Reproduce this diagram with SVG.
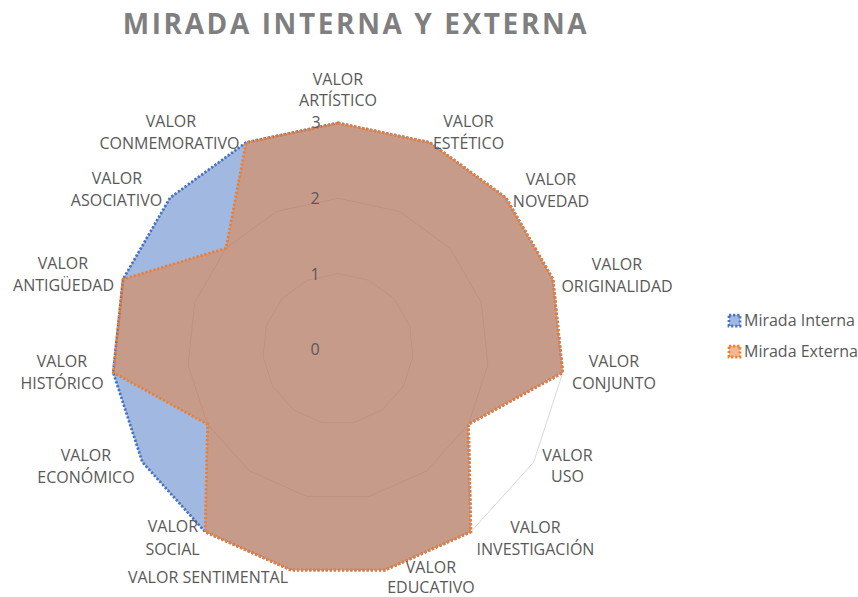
<svg xmlns="http://www.w3.org/2000/svg" width="858" height="597" viewBox="0 0 858 597">
<style>
.t{font-family:"Open Sans","Liberation Sans",sans-serif;font-size:16px;fill:#595959;text-anchor:middle}
.title{font-family:"Open Sans","Liberation Sans",sans-serif;font-size:28px;font-weight:bold;fill:#7f7f7f;text-anchor:middle;letter-spacing:2.6px}
.grid{fill:none;stroke:#d9d9d9;stroke-width:1}
.int{fill:#4472c4;fill-opacity:0.5;stroke:#4472c4;stroke-width:2.75;stroke-dasharray:2.2 1.9}
.ext{fill:#ed7d31;fill-opacity:0.5;stroke:#ed7d31;stroke-width:2.75;stroke-dasharray:2.2 1.9}
.leg{font-family:"Open Sans","Liberation Sans",sans-serif;font-size:16px;fill:#595959}
</style>
<rect width="858" height="597" fill="#fff"/>
<text class="title" x="356" y="34">MIRADA INTERNA Y EXTERNA</text>
<g id="grid">
<polygon class="grid" points="338,123 429.92,142.54 505.95,197.78 552.94,279.16 562.76,372.62 533.72,462 470.84,531.84 384.99,570.06 291.01,570.06 205.16,531.84 142.28,462 113.24,372.62 123.06,279.16 170.05,197.78 246.08,142.54"/>
<polygon class="grid" points="338,198.33 399.28,211.36 449.97,248.18 481.3,302.44 487.84,364.75 468.48,424.33 426.56,470.89 369.33,496.38 306.67,496.38 249.44,470.89 207.52,424.33 188.16,364.75 194.7,302.44 226.03,248.18 276.72,211.36"/>
<polygon class="grid" points="338,273.67 368.64,280.18 393.98,298.59 409.64,325.72 412.92,356.87 403.24,386.67 382.28,409.94 353.66,422.69 322.34,422.69 293.72,409.94 272.76,386.67 263.08,356.87 266.36,325.72 282.02,298.59 307.36,280.18"/>
</g>
<g id="series-interna">
<polygon class="int" points="338,123 429.92,142.54 505.95,197.78 552.94,279.16 562.76,372.62 468.48,424.33 470.84,531.84 384.99,570.06 291.01,570.06 205.16,531.84 142.28,462 113.24,372.62 123.06,279.16 170.05,197.78 246.08,142.54"/>
</g>
<g id="series-externa">
<polygon class="ext" points="338,123 429.92,142.54 505.95,197.78 552.94,279.16 562.76,372.62 468.48,424.33 470.84,531.84 384.99,570.06 291.01,570.06 205.16,531.84 207.52,424.33 113.24,372.62 123.06,279.16 226.03,248.18 246.08,142.54"/>
</g>
<g id="axis-values">
<text class="t" x="316" y="128">3</text>
<text class="t" x="315" y="204">2</text>
<text class="t" x="315" y="280">1</text>
<text class="t" x="315" y="355">0</text>
</g>
<g id="labels">
<g id="l-artistico"><text class="t" x="338" y="85">VALOR</text><text class="t" x="338" y="106">ARTÍSTICO</text></g>
<g id="l-estetico"><text class="t" x="468.5" y="127">VALOR</text><text class="t" x="468.5" y="149">ESTÉTICO</text></g>
<g id="l-novedad"><text class="t" x="551" y="185">VALOR</text><text class="t" x="551" y="207">NOVEDAD</text></g>
<g id="l-originalidad"><text class="t" x="617" y="270">VALOR</text><text class="t" x="617" y="292">ORIGINALIDAD</text></g>
<g id="l-conjunto"><text class="t" x="614" y="367">VALOR</text><text class="t" x="614" y="389">CONJUNTO</text></g>
<g id="l-uso"><text class="t" x="567.5" y="461">VALOR</text><text class="t" x="567.5" y="482">USO</text></g>
<g id="l-investigacion"><text class="t" x="535.5" y="533">VALOR</text><text class="t" x="535.5" y="555">INVESTIGACIÓN</text></g>
<g id="l-educativo"><text class="t" x="431" y="573">VALOR</text><text class="t" x="431" y="593">EDUCATIVO</text></g>
<g id="l-sentimental"><text class="t" x="208" y="583">VALOR SENTIMENTAL</text></g>
<g id="l-social"><text class="t" x="173" y="532">VALOR</text><text class="t" x="172.5" y="555">SOCIAL</text></g>
<g id="l-economico"><text class="t" x="86" y="461">VALOR</text><text class="t" x="86" y="483">ECONÓMICO</text></g>
<g id="l-historico"><text class="t" x="62" y="367">VALOR</text><text class="t" x="62" y="389">HISTÓRICO</text></g>
<g id="l-antiguedad"><text class="t" x="63" y="269">VALOR</text><text class="t" x="63.5" y="291">ANTIGÜEDAD</text></g>
<g id="l-asociativo"><text class="t" x="117" y="184">VALOR</text><text class="t" x="116.5" y="206">ASOCIATIVO</text></g>
<g id="l-conmemorativo"><text class="t" x="171" y="127">VALOR</text><text class="t" x="169.5" y="149">CONMEMORATIVO</text></g>
</g>
<g id="legend">
<rect x="729" y="315" width="11" height="11" class="int"/>
<text class="leg" x="744" y="326">Mirada Interna</text>
<rect x="729" y="346" width="11" height="11" class="ext" style="fill-opacity:0.55"/>
<text class="leg" x="744" y="357">Mirada Externa</text>
</g>
</svg>
